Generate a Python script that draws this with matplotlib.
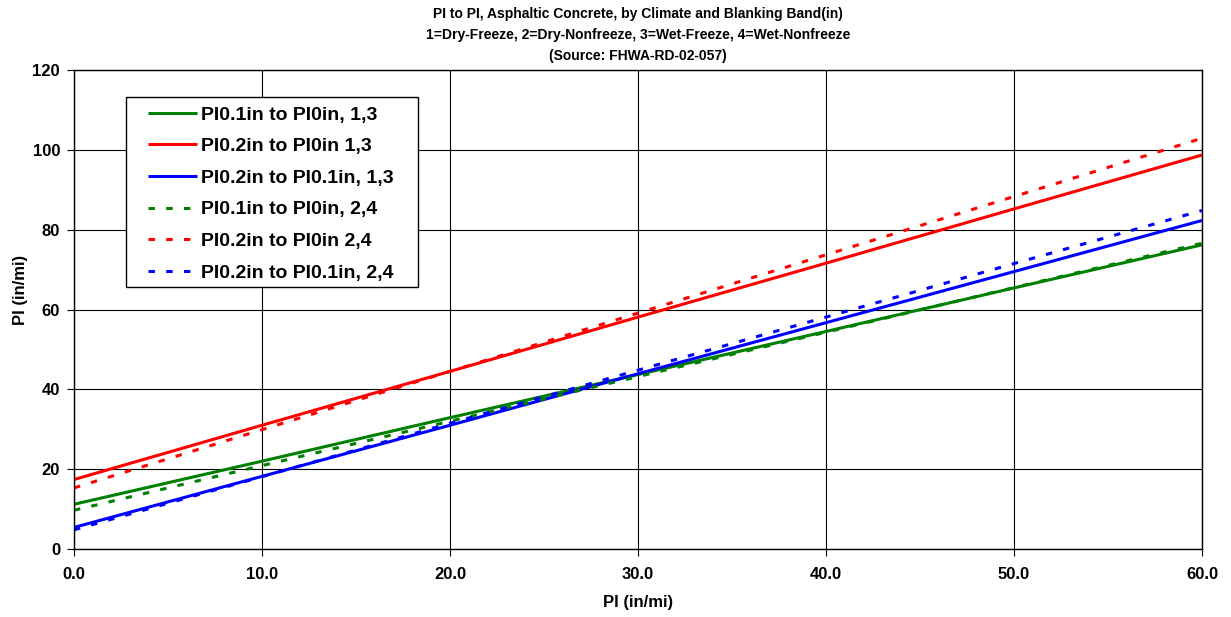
import matplotlib
matplotlib.use("Agg")
import matplotlib.pyplot as plt
from matplotlib.patches import Rectangle

plt.rcParams['font.family'] = ['Liberation Sans', 'DejaVu Sans']
plt.rcParams['font.weight'] = 'bold'

x = [0, 10, 20, 30, 40, 50, 60]
green_13 = [11.2, 22.0, 32.9, 43.7, 54.5, 65.4, 76.2]
red_13 = [17.4, 31.0, 44.5, 58.1, 71.6, 85.2, 98.7]
blue_13 = [5.4, 18.2, 31.0, 43.9, 56.7, 69.5, 82.3]
green_24 = [9.7, 20.9, 32.0, 43.2, 54.3, 65.5, 76.6]
red_24 = [15.3, 29.9, 44.5, 59.1, 73.7, 88.3, 102.9]
blue_24 = [4.8, 18.1, 31.5, 44.8, 58.1, 71.5, 84.8]

labels = ["PI0.1in to PI0in, 1,3", "PI0.2in to PI0in 1,3", "PI0.2in to PI0.1in, 1,3",
          "PI0.1in to PI0in, 2,4", "PI0.2in to PI0in 2,4", "PI0.2in to PI0.1in, 2,4"]
xticks = [0, 10, 20, 30, 40, 50, 60]
yticks = [0, 20, 40, 60, 80, 100, 120]

W, H = 1231, 617
fig = plt.figure(figsize=(W/100, H/100), dpi=100)
ax = fig.add_axes([74/W, 1-549/H, (1202-74)/W, (549-70)/H])

lw = 2.2
dash = (0, (2.1, 3.7))
ax.plot(x, green_13, color='#008000', lw=lw, label=labels[0], solid_capstyle='butt')
ax.plot(x, red_13, color='#ff0000', lw=lw, label=labels[1], solid_capstyle='butt')
ax.plot(x, blue_13, color='#0000ff', lw=lw, label=labels[2], solid_capstyle='butt')
ax.plot(x, green_24, color='#008000', lw=lw, ls=dash, label=labels[3], dash_capstyle='butt')
ax.plot(x, red_24, color='#ff0000', lw=lw, ls=dash, label=labels[4], dash_capstyle='butt')
ax.plot(x, blue_24, color='#0000ff', lw=lw, ls=dash, label=labels[5], dash_capstyle='butt')

ax.set_xlim(0, 60)
ax.set_ylim(0, 120)
ax.set_xticks(xticks)
ax.set_xticklabels([f"{v:.1f}" for v in xticks])
ax.set_yticks(yticks)
ax.grid(True, color='black', lw=0.8)
ax.set_axisbelow(True)
ax.tick_params(direction='out', length=5, width=0.8, labelsize=12)
ax.tick_params(axis='x', pad=8)
ax.tick_params(axis='y', pad=5)
for lab in ax.get_xticklabels() + ax.get_yticklabels():
    lab.set_fontweight('bold')
for s in ax.spines.values():
    s.set_color('black')
    s.set_linewidth(1.0)

ax.set_xlabel("PI (in/mi)", fontsize=12, fontweight='bold')
ax.set_ylabel("PI (in/mi)", fontsize=12, fontweight='bold')
ax.xaxis.set_label_coords(0.5, (549-603)/479)
ax.yaxis.set_label_coords((20-74)/1128, (549-290)/479)
ax.xaxis.label.set_va('center')
ax.yaxis.label.set_va('center')

fig.text(638/W, 1-7/H,
         "PI to PI, Asphaltic Concrete, by Climate and Blanking Band(in)\n"
         "1=Dry-Freeze, 2=Dry-Nonfreeze, 3=Wet-Freeze, 4=Wet-Nonfreeze\n"
         "(Source: FHWA-RD-02-057)",
         ha='center', va='top', fontsize=10, fontweight='bold', linespacing=1.65)

# legend box
box = Rectangle((126/W, 1-287/H), (418-126)/W, (287-97)/H, transform=fig.transFigure,
                facecolor='white', edgecolor='black', lw=1.0, zorder=4)
fig.add_artist(box)

leg = fig.legend(*ax.get_legend_handles_labels(), loc='upper left',
                 bbox_to_anchor=(148/W, 1-106/H),
                 fontsize=14, frameon=False, handlelength=2.5, handletextpad=0.22,
                 borderpad=0, labelspacing=0.72, borderaxespad=0)
leg.set_zorder(5)
for t in leg.get_texts():
    t.set_fontweight('bold')

fig.savefig("out.png", dpi=100)
